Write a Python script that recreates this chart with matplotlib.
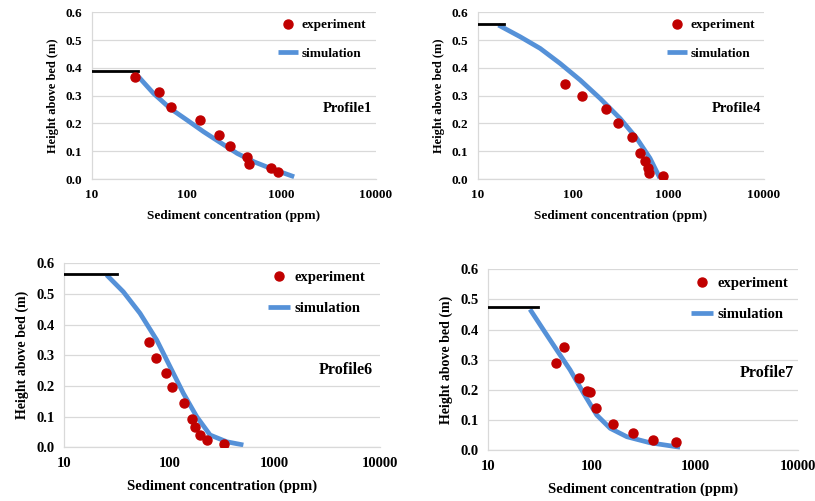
import matplotlib
matplotlib.use('Agg')
import matplotlib.pyplot as plt
from matplotlib.ticker import FixedLocator, FixedFormatter, NullLocator

plt.rcParams['font.family'] = ['Liberation Serif', 'DejaVu Serif']
plt.rcParams['font.weight'] = 'bold'

red = '#C00000'
blue = '#5591D8'

# Profile 1
p1_exp_c = [28.3, 50.5, 69, 138, 220, 286, 433, 451, 771, 922]
p1_exp_h = [0.368, 0.313, 0.260, 0.212, 0.158, 0.119, 0.078, 0.053, 0.041, 0.026]
p1_sim_c = [31, 44.7, 67, 101, 151, 227, 342, 514, 772, 1365]
p1_sim_h = [0.368, 0.308, 0.254, 0.212, 0.170, 0.131, 0.092, 0.062, 0.038, 0.008]
p1_top = 0.388
p1_top_end = 30.8

# Profile 4
p4_exp_c = [81, 124, 218, 296, 408, 499, 563, 610, 625, 875]
p4_exp_h = [0.341, 0.300, 0.252, 0.200, 0.150, 0.095, 0.065, 0.039, 0.021, 0.011]
p4_sim_c = [16.4, 27.7, 44.9, 72.6, 118, 191, 309, 461, 636, 809]
p4_sim_h = [0.554, 0.512, 0.470, 0.416, 0.356, 0.290, 0.218, 0.147, 0.075, 0.003]
p4_top = 0.558
p4_top_end = 18.9

# Profile 6
p6_exp_c = [64, 74, 94, 106, 139, 165, 175, 194, 228, 333]
p6_exp_h = [0.342, 0.290, 0.241, 0.196, 0.146, 0.091, 0.066, 0.039, 0.023, 0.011]
p6_sim_c = [25.4, 36.6, 52.7, 75.9, 101.6, 136, 182, 244, 351, 505]
p6_sim_h = [0.562, 0.507, 0.437, 0.350, 0.263, 0.176, 0.100, 0.040, 0.018, 0.0075]
p6_top = 0.564
p6_top_end = 32

# Profile 7
p7_exp_c = [45, 54, 75, 89.5, 96, 109, 162, 249, 395, 659]
p7_exp_h = [0.288, 0.341, 0.239, 0.197, 0.192, 0.138, 0.086, 0.058, 0.032, 0.027]
p7_sim_c = [25.3, 34.1, 45.9, 61.8, 83.6, 112, 151, 219, 367, 717]
p7_sim_h = [0.467, 0.399, 0.332, 0.266, 0.188, 0.116, 0.072, 0.044, 0.024, 0.009]
p7_top = 0.474
p7_top_end = 30.5

x_ticks = [10, 100, 1000, 10000]
x_tick_labels = ['10', '100', '1000', '10000']
y_ticks = [0.0, 0.1, 0.2, 0.3, 0.4, 0.5, 0.6]
y_tick_labels = ['0.0', '0.1', '0.2', '0.3', '0.4', '0.5', '0.6']


def draw_panel(ax, exp_c, exp_h, sim_c, sim_h, top, top_end, name,
               name_xy, leg_xy, fs):
    ax.plot([10, top_end], [top, top], color='black', lw=2, zorder=3)
    ax.plot(sim_c, sim_h, color=blue, lw=3.4, solid_capstyle='butt',
            solid_joinstyle='round', label='simulation', zorder=2)
    ax.plot(exp_c, exp_h, 'o', color=red, ms=6.5, label='experiment', zorder=4)
    ax.set_xscale('log')
    ax.set_xlim(10, 10000)
    ax.set_ylim(0, 0.6)
    ax.xaxis.set_major_locator(FixedLocator(x_ticks))
    ax.xaxis.set_major_formatter(FixedFormatter(x_tick_labels))
    ax.xaxis.set_minor_locator(NullLocator())
    ax.set_yticks(y_ticks)
    ax.set_yticklabels(y_tick_labels)
    ax.tick_params(length=0, labelsize=fs + 0.5, pad=7)
    for lbl in ax.get_xticklabels() + ax.get_yticklabels():
        lbl.set_fontweight('bold')
    ax.grid(axis='y', color='#D9D9D9', lw=0.9)
    ax.set_axisbelow(True)
    for s in ['top', 'right']:
        ax.spines[s].set_visible(False)
    for s in ['left', 'bottom']:
        ax.spines[s].set_color('#D9D9D9')
        ax.spines[s].set_linewidth(0.9)
    ax.set_xlabel('Sediment concentration (ppm)', fontsize=fs + 0.5,
                  fontweight='bold', labelpad=7)
    ax.set_ylabel('Height above bed (m)', fontsize=fs, fontweight='bold', labelpad=5)
    ax.text(name_xy[0], name_xy[1], name, transform=ax.transAxes, ha='center',
            va='center', fontsize=fs + 1.5, fontweight='bold')
    h, l = ax.get_legend_handles_labels()
    ax.legend([h[1], h[0]], [l[1], l[0]], loc='upper left', bbox_to_anchor=leg_xy,
              frameon=False, prop={'size': fs + 0.5, 'weight': 'bold'},
              handlelength=1.5, handletextpad=0.3, labelspacing=1.25,
              borderpad=0, borderaxespad=0)


fig = plt.figure(figsize=(8.15, 5.01), dpi=100)
ax1 = fig.add_axes([0.1129, 0.6427, 0.3485, 0.3327])
ax2 = fig.add_axes([0.5865, 0.6427, 0.3510, 0.3327])
ax3 = fig.add_axes([0.0785, 0.1072, 0.3877, 0.3673])
ax4 = fig.add_axes([0.5992, 0.1018, 0.3804, 0.3607])

draw_panel(ax1, p1_exp_c, p1_exp_h, p1_sim_c, p1_sim_h, p1_top, p1_top_end,
           'Profile1', (0.898, 0.426), (0.655, 0.96), 9)
draw_panel(ax2, p4_exp_c, p4_exp_h, p4_sim_c, p4_sim_h, p4_top, p4_top_end,
           'Profile4', (0.903, 0.426), (0.66, 0.96), 9)
draw_panel(ax3, p6_exp_c, p6_exp_h, p6_sim_c, p6_sim_h, p6_top, p6_top_end,
           'Profile6', (0.892, 0.42), (0.645, 0.96), 10)
draw_panel(ax4, p7_exp_c, p7_exp_h, p7_sim_c, p7_sim_h, p7_top, p7_top_end,
           'Profile7', (0.898, 0.424), (0.655, 0.96), 10)

fig.savefig('out.png', dpi=100)
